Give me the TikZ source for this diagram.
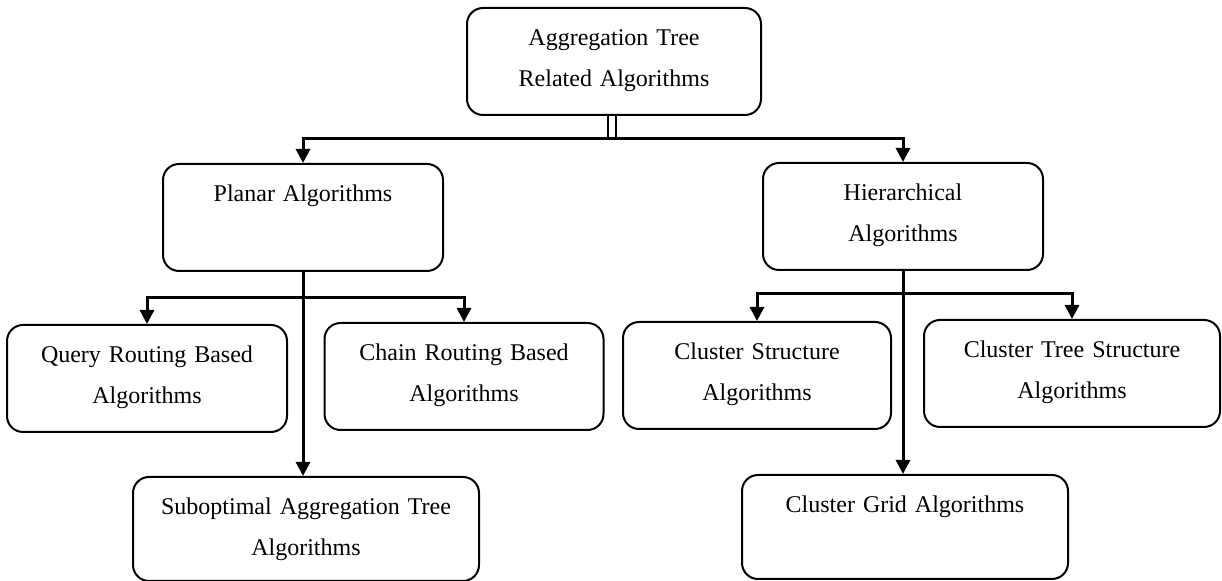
\documentclass[tikz,border=0pt]{standalone}
\usepackage{fontspec}
\setmainfont{Liberation Serif}
\usetikzlibrary{arrows.meta}
\tikzset{
    BX/.style ={rectangle,rounded corners=8pt,draw,line width=1pt,anchor=north,align=center,
        font=\fontsize{12}{20.5}\selectfont,inner xsep=0pt,inner ysep=0pt,
        text height=19pt,text depth=34.5pt,text width=#1},
    BXS/.style ={BX=#1,text depth=33pt}
}
\begin{document}
\begin{tikzpicture}[x=0.5pt,y=-0.5pt,
        ln/.style={-{Triangle[length=7pt,width=7pt]},line width=1.5pt},
        db/.style={double,double distance=3pt,line width=0.9pt}]
    \useasboundingbox (0,0) rectangle (1222,581);
    \node[BX=147pt](root) at(614,7) {Aggregation Tree\\Related Algorithms};
    \node[BX=140pt](pl) at(303,163) {Planar Algorithms};
    \node[BX=140pt](hi) at(903,162) {Hierarchical\\Algorithms};
    \node[BX=140pt](qr) at(147,324) {Query Routing Based\\Algorithms};
    \node[BX=139.5pt](cr) at(464,322) {Chain Routing Based\\Algorithms};
    \node[BX=134pt](cs) at(757,321) {Cluster Structure\\Algorithms};
    \node[BX=148pt](ct) at(1072,319) {Cluster Tree Structure\\Algorithms};
    \node[BXS=173pt](sa) at(306,476) {Suboptimal Aggregation Tree\\Algorithms};
    \node[BXS=163pt](cg) at(905,474) {Cluster Grid Algorithms};
    \coordinate (s0) at (612,139);
    \coordinate (s1) at (303,298);
    \coordinate (s2) at (903,294);
    \draw[db] (s0 |- root.south) -- (s0);
    \draw[ln] (s0) -| (pl.north);
    \draw[ln] (s0) -| (hi.north);
    \draw[ln] (pl.south) -- (pl.south |- sa.north);
    \draw[ln] (s1) -| (qr.north);
    \draw[ln] (s1) -| (cr.north);
    \draw[ln] (hi.south) -- (hi.south |- cg.north);
    \draw[ln] (s2) -| (cs.north);
    \draw[ln] (s2) -| (ct.north);
\end{tikzpicture}
\end{document}
